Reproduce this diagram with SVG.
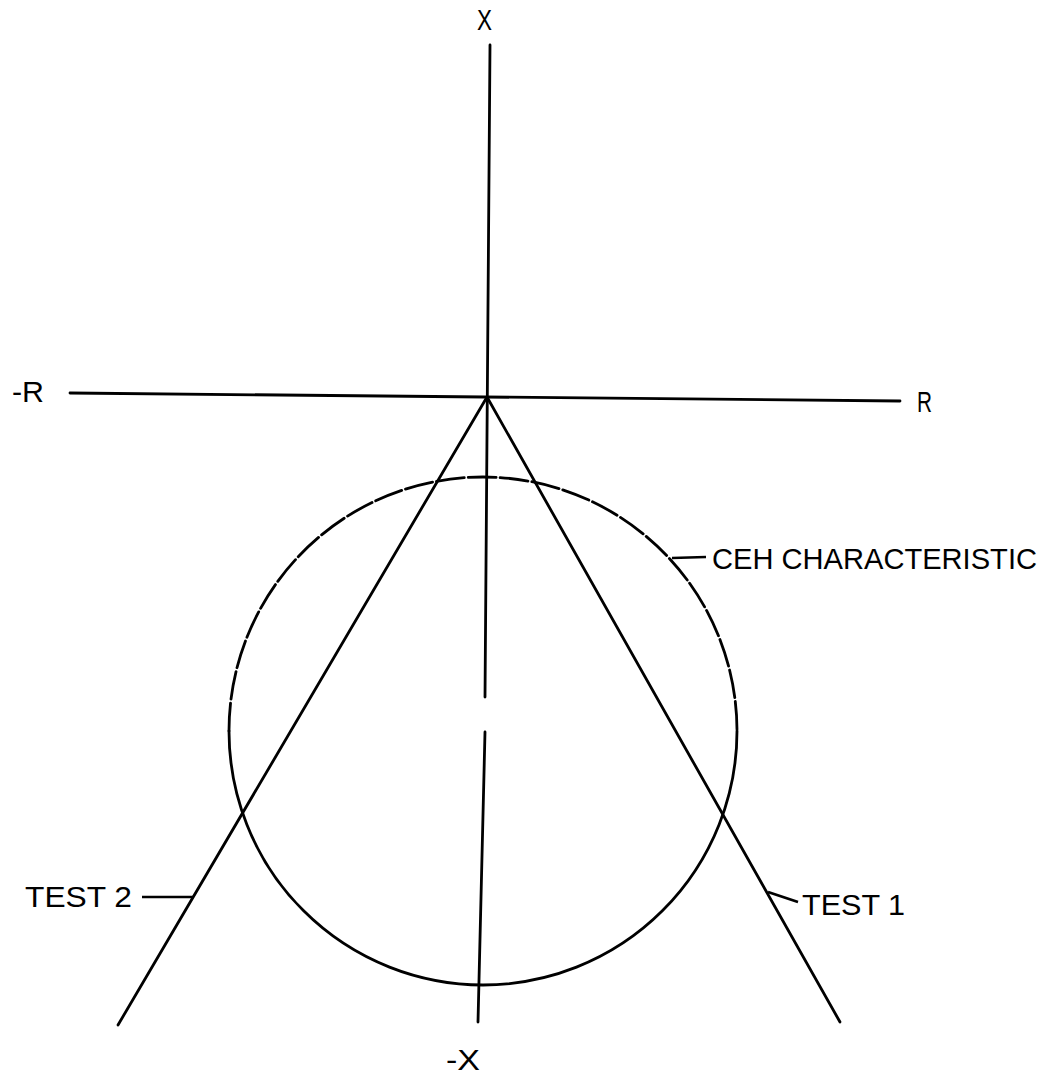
<svg xmlns="http://www.w3.org/2000/svg" width="1057" height="1076" viewBox="0 0 1057 1076">
<style>
.ln{stroke:#000;stroke-width:2.8;fill:none;stroke-linecap:round}
.lead{stroke:#000;stroke-width:2.6;fill:none}
.t{font-family:"Liberation Sans","DejaVu Sans",sans-serif;font-size:30px;fill:#000}
</style>
<rect width="1057" height="1076" fill="#fff"/>
<g id="connectors">
<path id="axis-x-upper" class="ln" d="M490 45 L485 697"/>
<path id="axis-x-lower" class="ln" d="M485 732 L478 1022"/>
<path id="axis-r" class="ln" d="M70 393 L900 401"/>
<path id="test1-line" class="ln" d="M487 397 L840 1022"/>
<path id="test2-line" class="ln" d="M487 397 L118 1025"/>
<path class="lead" d="M672 558 L706 557"/>
<path class="lead" d="M768 892 L798 902"/>
<path class="lead" d="M142 897 L193 897"/>
</g>
<g id="ceh-circle">
<path class="ln" stroke-width="2" stroke-dasharray="28 4" d="M229 731 A254 254 0 0 1 737 731"/>
<path class="ln" stroke-width="2" d="M229 731 A254 254 0 0 0 737 731"/>
</g>
<g id="labels">
<text class="t" x="477" y="30" textLength="15" lengthAdjust="spacingAndGlyphs">X</text>
<text class="t" x="446" y="1070" textLength="34" lengthAdjust="spacingAndGlyphs">-X</text>
<text class="t" x="12" y="402" textLength="32" lengthAdjust="spacingAndGlyphs">-R</text>
<text class="t" x="917" y="412" textLength="15" lengthAdjust="spacingAndGlyphs">R</text>
<text class="t" x="712" y="569" textLength="325" lengthAdjust="spacingAndGlyphs">CEH CHARACTERISTIC</text>
<text class="t" x="25" y="907" textLength="107" lengthAdjust="spacingAndGlyphs">TEST 2</text>
<text class="t" x="802" y="915" textLength="103" lengthAdjust="spacingAndGlyphs">TEST 1</text>
</g>
</svg>
